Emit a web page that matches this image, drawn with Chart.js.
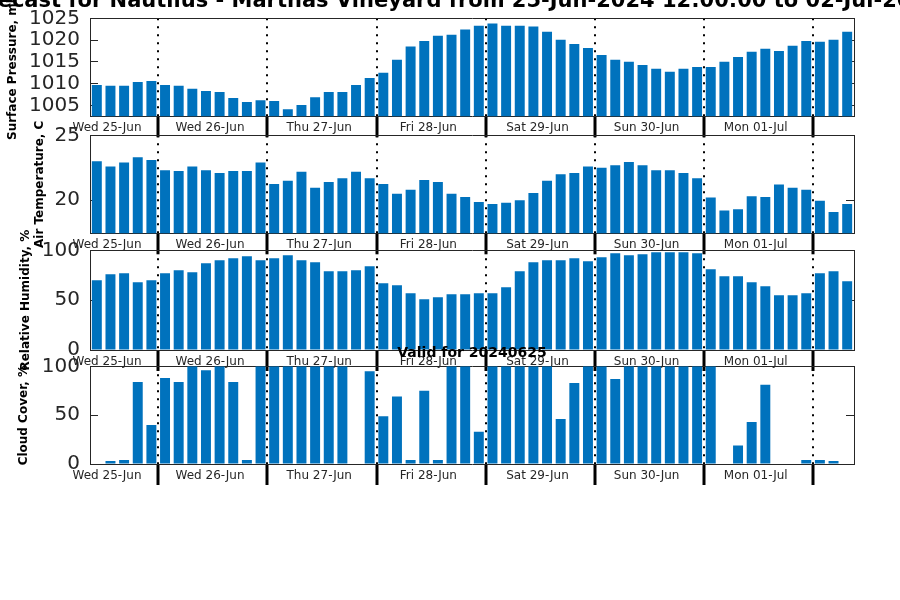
<!DOCTYPE html>
<html>
<head>
<meta charset="utf-8">
<script src="https://cdn.jsdelivr.net/npm/chart.js@4.4.1/dist/chart.umd.min.js"></script>
<style>
  body { margin: 0; background: #fff; }
  #wrap { position: relative; width: 900px; height: 600px; overflow: hidden; background: #fff; }
  #wrap canvas { position: absolute; left: 0; top: 0; }
  #ttl { position: absolute; left: 450px; top: -13px; transform: translateX(-50%); white-space: nowrap;
         font: bold 21px 'DejaVu Sans', sans-serif; line-height: 26px; color: #000; }
</style>
</head>
<body>
<div id="wrap">
  <canvas id="pres" width="900" height="600"></canvas>
  <canvas id="temp" width="900" height="600"></canvas>
  <canvas id="hum" width="900" height="600"></canvas>
  <canvas id="cloud" width="900" height="600"></canvas>
  <div id="ttl">Forecast for Nautilus - Marthas Vineyard from 25-Jun-2024 12:00:00 to 02-Jul-2024</div>
</div>
<script>
// 3-hourly forecast, first day has 5 steps then 8 per day
const dayLabels = ['Wed 25-Jun', 'Wed 26-Jun', 'Thu 27-Jun', 'Fri 28-Jun', 'Sat 29-Jun', 'Sun 30-Jun', 'Mon 01-Jul'];
const firstDaySteps = 5;
const stepsPerDay = 8;

const pressure = [1009.7, 1009.5, 1009.5, 1010.4, 1010.6,
  1009.7, 1009.5, 1008.8, 1008.3, 1008.1, 1006.7, 1005.8, 1006.2,
  1006.0, 1004.1, 1005.1, 1006.9, 1008.1, 1008.1, 1009.7, 1011.3,
  1012.5, 1015.5, 1018.5, 1019.8, 1021.0, 1021.2, 1022.4, 1023.3,
  1023.8, 1023.3, 1023.3, 1023.1, 1021.9, 1020.1, 1019.1, 1018.2,
  1016.6, 1015.5, 1015.0, 1014.3, 1013.4, 1012.7, 1013.4, 1013.8,
  1013.8, 1015.0, 1016.1, 1017.3, 1018.0, 1017.5, 1018.7, 1019.8,
  1019.6, 1020.1, 1021.9];
const temperature = [23.0, 22.6, 22.9, 23.3, 23.1,
  22.3, 22.25, 22.6, 22.3, 22.1, 22.25, 22.25, 22.9,
  21.25, 21.5, 22.2, 20.95, 21.4, 21.7, 22.2, 21.7,
  21.25, 20.5, 20.8, 21.55, 21.4, 20.5, 20.25, 19.87,
  19.7, 19.8, 20.0, 20.55, 21.5, 22.0, 22.1, 22.6,
  22.5, 22.7, 22.95, 22.7, 22.3, 22.3, 22.1, 21.7,
  20.2, 19.2, 19.3, 20.3, 20.25, 21.2, 20.95, 20.8,
  19.95, 19.1, 19.7];
const humidity = [70, 76, 77, 68, 70,
  77, 80, 78, 87, 90, 92, 94, 90,
  92, 95, 90, 88, 79, 79, 80, 84,
  67, 65, 57, 51, 53, 56, 56, 57,
  57, 63, 79, 88, 90, 90, 92, 89,
  93, 97, 95, 96, 98, 98, 98, 97,
  81, 74, 74, 68, 64, 55, 55, 57,
  77, 79, 69];
const cloudCover = [0, 3, 4, 84, 40,
  88, 84, 100, 96, 100, 84, 4, 100,
  100, 100, 100, 100, 100, 100, 0, 95,
  49, 69, 4, 75, 4, 100, 100, 33,
  100, 100, 100, 100, 100, 46, 83, 100,
  100, 87, 100, 100, 100, 100, 100, 100,
  100, 0, 19, 43, 81, 0, 0, 4,
  4, 3, 0];

const presTicks = [1005, 1010, 1015, 1020, 1025];
const tempTicks = [20, 25];
const pctTicks = [0, 50, 100];

Chart.defaults.font.family = "'DejaVu Sans', sans-serif";

const nSteps = pressure.length;
// day boundaries (in steps) and label positions
const dayBounds = [];
for (let b = firstDaySteps; b < nSteps; b += stepsPerDay) dayBounds.push(b);
const labelAt = dayBounds.map((b, i) => i === 0 ? 1.25 : b - 4.2);
const xTicks = dayBounds.concat(labelAt).sort((a, b) => a - b);
const isBound = c => c.tick && dayBounds.includes(c.tick.value);

function panel(id, values, cfg) {
  const setTicks = s => { s.ticks = cfg.ticks.map(v => ({ value: v })); };
  return new Chart(document.getElementById(id), {
    type: 'bar',
    data: {
      datasets: [{
        data: values.map((v, i) => ({ x: i + 0.5, y: v })),
        backgroundColor: '#0072BD',
        borderWidth: 0,
        barPercentage: 0.73,
        categoryPercentage: 1,
        xAxisID: 'x',
        yAxisID: 'y'
      }]
    },
    options: {
      responsive: false,
      animation: false,
      events: [],
      layout: { padding: { top: cfg.padTop, bottom: cfg.padBottom, left: 0, right: 46 } },
      plugins: {
        legend: { display: false },
        tooltip: { enabled: false },
        title: cfg.title || { display: false }
      },
      scales: {
        x: {
          type: 'linear', position: 'bottom', min: 0, max: nSteps, offset: false,
          afterBuildTicks: s => { s.ticks = xTicks.map(v => ({ value: v })); },
          afterFit: s => { s.height = 22; },
          ticks: {
            autoSkip: false, maxRotation: 0, padding: -16.5, color: '#262626', font: { size: 12 },
            callback: v => { const k = labelAt.indexOf(v); return k < 0 ? '' : dayLabels[k]; }
          },
          grid: {
            offset: false,
            color: c => isBound(c) ? '#000' : 'rgba(0,0,0,0)',
            lineWidth: 2,
            tickColor: c => isBound(c) ? '#000' : 'rgba(0,0,0,0)',
            tickWidth: 3,
            tickLength: 21,
            tickBorderDash: []
          },
          border: { color: '#262626', width: 1, dash: [2, 6] }
        },
        xTop: {
          type: 'linear', position: 'top', min: 0, max: nSteps,
          afterFit: s => { s.height = 0; },
          ticks: { display: false },
          grid: { display: false },
          border: { color: '#262626', width: 1 }
        },
        y: {
          position: 'left', min: cfg.min, max: cfg.max, beginAtZero: false, z: 1,
          afterBuildTicks: setTicks,
          afterFit: s => { s.width = 90; s.paddingTop = 0; s.paddingBottom = 0; },
          ticks: { autoSkip: false, color: '#262626', font: { size: 20 }, padding: 18, callback: v => String(v) },
          grid: { drawOnChartArea: false, tickLength: -8, tickColor: '#262626', tickWidth: 1 },
          border: { color: '#262626', width: 1 },
          title: {
            display: true, text: cfg.yTitle, color: '#000',
            font: { size: 12, weight: 'bold' }, padding: { top: cfg.titlePad, bottom: 0 }
          }
        },
        yR: {
          position: 'right', min: cfg.min, max: cfg.max, beginAtZero: false, z: 1,
          afterBuildTicks: setTicks,
          afterFit: s => { s.width = 0; s.paddingTop = 0; s.paddingBottom = 0; },
          ticks: { display: false },
          grid: { drawOnChartArea: false, tickLength: -8, tickColor: '#262626', tickWidth: 1 },
          border: { color: '#262626', width: 1 }
        }
      }
    }
  });
}

panel('pres', pressure, {
  min: 1002.5, max: 1025, ticks: presTicks, yTitle: 'Surface Pressure, mb', titlePad: 5.8,
  padTop: 18.3, padBottom: 600 - 116.3 - 22
});
panel('temp', temperature, {
  min: 17.45, max: 25, ticks: tempTicks, yTitle: 'Air Temperature, C', titlePad: 32.8,
  padTop: 135.3, padBottom: 600 - 233.3 - 22
});
panel('hum', humidity, {
  min: 0, max: 100, ticks: pctTicks, yTitle: 'Relative Humidity, %', titlePad: 18.8,
  padTop: 250.3, padBottom: 600 - 350 - 22
});
panel('cloud', cloudCover, {
  min: 0, max: 100, ticks: pctTicks, yTitle: 'Cloud Cover, %', titlePad: 16.8,
  padTop: 344.6, padBottom: 600 - 464 - 22,
  title: {
    display: true, text: 'Valid for 20240625', color: '#000', fullSize: false,
    font: { size: 14, weight: 'bold' }, padding: { top: 0, bottom: 4.9 }
  }
});
</script>
</body>
</html>
